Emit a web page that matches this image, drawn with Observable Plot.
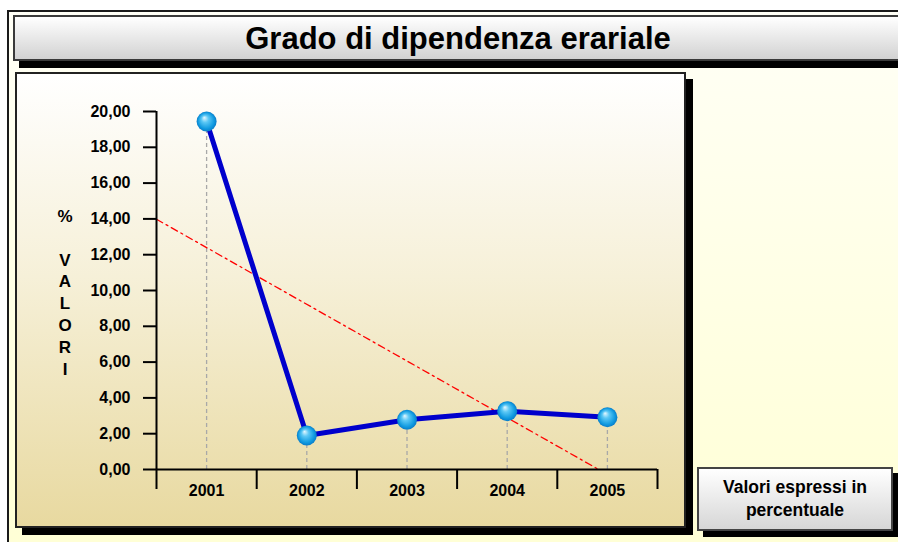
<!DOCTYPE html>
<html>
<head>
<meta charset="utf-8">
<script src="https://cdn.jsdelivr.net/npm/d3@7"></script>
<script src="https://cdn.jsdelivr.net/npm/@observablehq/plot@0.6"></script>
<style>
  html, body { margin: 0; padding: 0; background: #ffffff; width: 898px; height: 542px; overflow: hidden; position: relative; font-family: "Liberation Sans", Arial, sans-serif; }
  .abs { position: absolute; box-sizing: border-box; }
  #outer { left: 7px; top: 10px; width: 920px; height: 560px; border: 2px solid #1a1a1a; background: linear-gradient(#fffff6, #ffffd4); }
  #title { left: 13px; top: 15px; width: 920px; height: 46px; border: 2px solid #3a3a3a; background: linear-gradient(#ffffff, #d2d2d2); box-shadow: 6px 7px 0 #000; font-weight: bold; font-size: 31px; line-height: 44px; color: #000; }
  #title span { position: absolute; left: 0; width: 886px; text-align: center; }
  #panel { left: 15px; top: 72px; width: 671px; height: 456px; border: 2px solid #222; background: linear-gradient(#ffffff 0%, #f6f0d8 45%, #e8d9a0 100%); box-shadow: 7px 7px 0 #000; }
  #ylab { left: 51px; top: 206px; width: 28px; text-align: center; font-weight: bold; font-size: 17px; line-height: 21.8px; color: #000; }
  #legend { left: 697px; top: 467px; width: 196px; height: 64px; border: 2px solid #444; background: linear-gradient(#ffffff, #d6d6d6); box-shadow: 6px 6px 0 #000; font-weight: bold; font-size: 17.5px; line-height: 23px; text-align: center; padding-top: 7px; color: #000; }
  #chart { left: 16px; top: 73px; }
</style>
</head>
<body>
<div id="outer" class="abs"></div>
<div id="title" class="abs"><span>Grado di dipendenza erariale</span></div>
<div id="panel" class="abs"></div>
<div id="ylab" class="abs">%<br><br>V<br>A<br>L<br>O<br>R<br>I</div>
<div id="legend" class="abs">Valori espressi in<br>percentuale</div>
<div id="chart" class="abs"></div>
<script>
// Data
const years = ["2001", "2002", "2003", "2004", "2005"];
const values = [19.44, 1.90, 2.78, 3.26, 2.92];
const yTicks = [0, 2, 4, 6, 8, 10, 12, 14, 16, 18, 20];

const data = years.map((y, i) => ({i, year: y, v: values[i]}));

// linear trend (least squares) over category index
const n = values.length;
const mx = d3.mean(data, d => d.i), my = d3.mean(values);
const slope = d3.sum(data, d => (d.i - mx) * (d.v - my)) / d3.sum(data, d => (d.i - mx) ** 2);
const icpt = my - slope * mx;
const xStart = -0.5;
const xZero = -icpt / slope;
const xEnd = Math.min(xZero, n - 0.5);
const trend = [{i: xStart, v: icpt + slope * xStart}, {i: xEnd, v: Math.max(0, icpt + slope * xEnd)}];
const bounds = d3.range(-0.5, n, 1);

const font = {fontSize: 16, fontWeight: "bold", fontFamily: "Liberation Sans, Arial, sans-serif", fill: "#000"};

const plot = Plot.plot({
  width: 668,
  height: 454,
  marginLeft: 140,
  marginRight: 27,
  marginTop: 38,
  marginBottom: 58,
  style: {background: "transparent", overflow: "visible", color: "#000"},
  x: {type: "linear", domain: [-0.5, n - 0.5], axis: null},
  y: {domain: [0, 20], axis: null},
  marks: [
    Plot.ruleX(data, {x: "i", y1: 0, y2: "v", stroke: "#a8a8a8", strokeWidth: 1.3, strokeDasharray: "4,3"}),
    Plot.line(trend, {x: "i", y: "v", stroke: "#ff0000", strokeWidth: 1.3, strokeDasharray: "7,4,2,4"}),
    Plot.ruleX([-0.5], {stroke: "#000", strokeWidth: 2}),
    Plot.ruleY([0], {stroke: "#000", strokeWidth: 2}),
    Plot.axisY({ticks: yTicks, tickSize: 13, tickPadding: 13, strokeWidth: 2, label: null,
      tickFormat: d => d.toFixed(2).replace(".", ","), ...font}),
    Plot.axisX({ticks: bounds, tickSize: 20, strokeWidth: 2, label: null, tickFormat: () => ""}),
    Plot.axisX({ticks: d3.range(n), tickSize: 0, tickPadding: 15, label: null,
      tickFormat: i => years[i], ...font}),
    Plot.line(data, {x: "i", y: "v", stroke: "#0000cc", strokeWidth: 5}),
    Plot.dot(data, {x: "i", y: "v", r: 10, fill: "url(#sphere)", stroke: "none"})
  ]
});

plot.insertAdjacentHTML("afterbegin",
  `<defs><radialGradient id="sphere" cx="0.5" cy="0.5" r="0.5" fx="0.38" fy="0.3">
     <stop offset="0" stop-color="#e6f8ff"/>
     <stop offset="0.35" stop-color="#5cc8f5"/>
     <stop offset="0.8" stop-color="#109ae0"/>
     <stop offset="1" stop-color="#0a7cc8"/>
   </radialGradient></defs>`);

document.getElementById("chart").appendChild(plot);
</script>
</body>
</html>
